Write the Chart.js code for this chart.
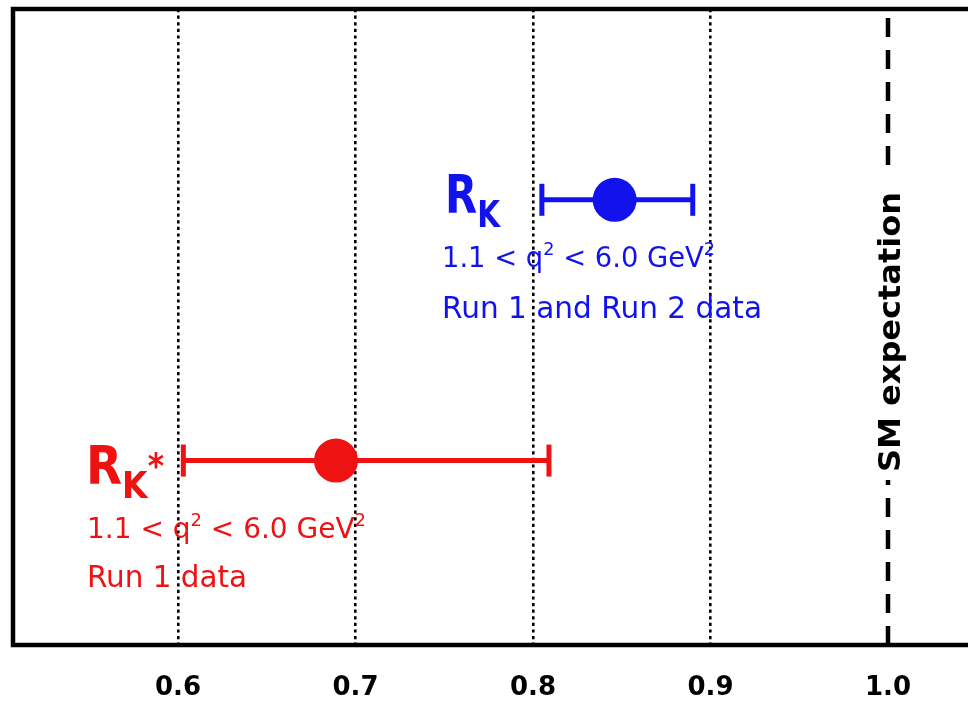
<!DOCTYPE html>
<html>
<head>
<meta charset="utf-8">
<script src="https://cdn.jsdelivr.net/npm/chart.js@4.4.1/dist/chart.umd.min.js"></script>
<style>
  html, body { margin: 0; padding: 0; background: #fff; overflow: hidden; }
  #wrap { position: relative; width: 1000px; height: 704px; }
</style>
</head>
<body>
<div id="wrap"><canvas id="ratios"></canvas></div>
<script>
// values
const names = ['R', 'R'];
const subs = ['K', 'K'];
const marks = ['', '*'];
const central = [0.846, 0.689];
const lower = [0.805, 0.603];
const upper = [0.890, 0.809];
const rowY = [0.70, 0.29];
const ranges = [['1.1 < q', '2', ' < 6.0 GeV', '2'], ['1.1 < q', '2', ' < 6.0 GeV', '2']];
const samples = ['Run 1 and Run 2 data', 'Run 1 data'];
const colours = ['rgb(18,18,236)', 'rgb(238,18,18)'];
const smValue = 1.0;
const smLabel = 'SM expectation';
const tickValues = [0.6, 0.7, 0.8, 0.9, 1.0];

Chart.defaults.font.family = "DejaVu Sans";

// pixel frame of the plot box
const LEFT = 13, TOP = 9, RIGHT = 990, PX_PER_UNIT = 1775, X06 = 178;

function drawPieces(ctx, pieces, x, y, width, colour) {
    ctx.save();
    ctx.fillStyle = colour;
    ctx.textAlign = 'left';
    ctx.textBaseline = 'alphabetic';
    let total = 0;
    pieces.forEach((p) => {
        ctx.font = (p.bold ? 'bold ' : '') + p.size + 'px "DejaVu Sans"';
        total += ctx.measureText(p.t).width;
    });
    ctx.translate(x, y);
    if (width) ctx.scale(width / total, 1);
    let cx = 0;
    pieces.forEach((p) => {
        ctx.font = (p.bold ? 'bold ' : '') + p.size + 'px "DejaVu Sans"';
        ctx.fillText(p.t, cx, p.dy || 0);
        cx += ctx.measureText(p.t).width;
    });
    ctx.restore();
}

const labelsPlugin = {
    id: 'labels',
    afterDatasetsDraw(chart) {
        const ctx = chart.ctx;
        const boxes = [
            {x: 445, base: 213, w: 55, rx: 442, rbase: 267, rw: 273, sbase: 318, sw: 320},
            {x: 86, base: 484, w: 78, rx: 87, rbase: 538, rw: 279, sbase: 587, sw: 160},
        ];
        boxes.forEach((b, i) => {
            const head = [
                {t: names[i], size: 54, bold: true},
                {t: subs[i], size: 38, bold: true, dy: 14},
            ];
            if (marks[i]) head.push({t: marks[i], size: 36, bold: true, dy: -6});
            drawPieces(ctx, head, b.x, b.base, b.w, colours[i]);
            const r = ranges[i];
            drawPieces(ctx, [
                {t: r[0], size: 28},
                {t: r[1], size: 18, dy: -12},
                {t: r[2], size: 28},
                {t: r[3], size: 18, dy: -12},
            ], b.rx, b.rbase, b.rw, colours[i]);
            drawPieces(ctx, [{t: samples[i], size: 30}], b.rx, b.sbase, b.sw, colours[i]);
        });

        // SM label, rotated, on a white patch over the dashed line
        const xs = chart.scales.x.getPixelForValue(smValue);
        ctx.save();
        ctx.fillStyle = '#fff';
        ctx.fillRect(xs - 14, 176, 30, 304);
        ctx.translate(xs, 332);
        ctx.rotate(-Math.PI / 2);
        ctx.font = 'bold 30px "DejaVu Sans"';
        const w = ctx.measureText(smLabel).width;
        ctx.scale(280 / w, 1);
        ctx.fillStyle = '#000';
        ctx.textAlign = 'center';
        ctx.textBaseline = 'alphabetic';
        ctx.fillText(smLabel, 0, 12);
        ctx.restore();
    },
    afterDraw(chart) {
        const a = chart.chartArea;
        const ctx = chart.ctx;
        ctx.save();
        ctx.strokeStyle = '#000';
        ctx.lineWidth = 4.5;
        ctx.strokeRect(a.left, a.top, a.right - a.left, a.bottom - a.top);
        ctx.restore();
    }
};

const datasets = [{
    type: 'line',
    data: [{x: smValue, y: 0}, {x: smValue, y: 1}],
    borderColor: '#000',
    borderWidth: 4.5,
    borderDash: [19, 13],
    pointRadius: 0,
}];
central.forEach((c, i) => {
    datasets.push({
        type: 'line',
        data: [{x: lower[i], y: rowY[i]}, {x: upper[i], y: rowY[i]}],
        borderColor: colours[i],
        borderWidth: 5,
        pointStyle: 'line',
        pointRotation: 90,
        pointRadius: 16,
        pointBorderWidth: 5,
        pointBorderColor: colours[i],
    });
    datasets.push({
        type: 'scatter',
        data: [{x: c, y: rowY[i]}],
        backgroundColor: colours[i],
        borderColor: colours[i],
        pointRadius: 22,
        pointBorderWidth: 0,
    });
});

new Chart(document.getElementById('ratios').getContext('2d'), {
    type: 'scatter',
    data: { datasets: datasets },
    plugins: [labelsPlugin],
    options: {
        events: [],
        animation: false,
        responsive: true,
        maintainAspectRatio: false,
        layout: { autoPadding: false, padding: { left: LEFT, top: TOP, right: 1000 - RIGHT, bottom: 0 } },
        scales: {
            x: {
                type: 'linear',
                min: 0.6 - (X06 - LEFT) / PX_PER_UNIT,
                max: 0.6 + (RIGHT - X06) / PX_PER_UNIT,
                afterBuildTicks: (scale) => { scale.ticks = tickValues.map((v) => ({value: v})); },
                afterFit: (scale) => { scale.height = 59; },
                grid: {
                    drawTicks: false,
                    color: (ctx) => (ctx.tick && Math.abs(ctx.tick.value - smValue) < 1e-9) ? 'rgba(0,0,0,0)' : '#000',
                    lineWidth: 2.6,
                },
                border: { display: false, dash: [3.2, 3.4] },
                ticks: {
                    padding: 28,
                    color: '#000',
                    font: { size: 26, weight: 'bold' },
                    maxRotation: 0,
                    callback: (v) => Number(v).toFixed(1),
                },
            },
            y: { display: false, min: 0, max: 1 },
        },
        plugins: {
            legend: { display: false },
            tooltip: { enabled: false },
        }
    }
});
</script>
</body>
</html>
